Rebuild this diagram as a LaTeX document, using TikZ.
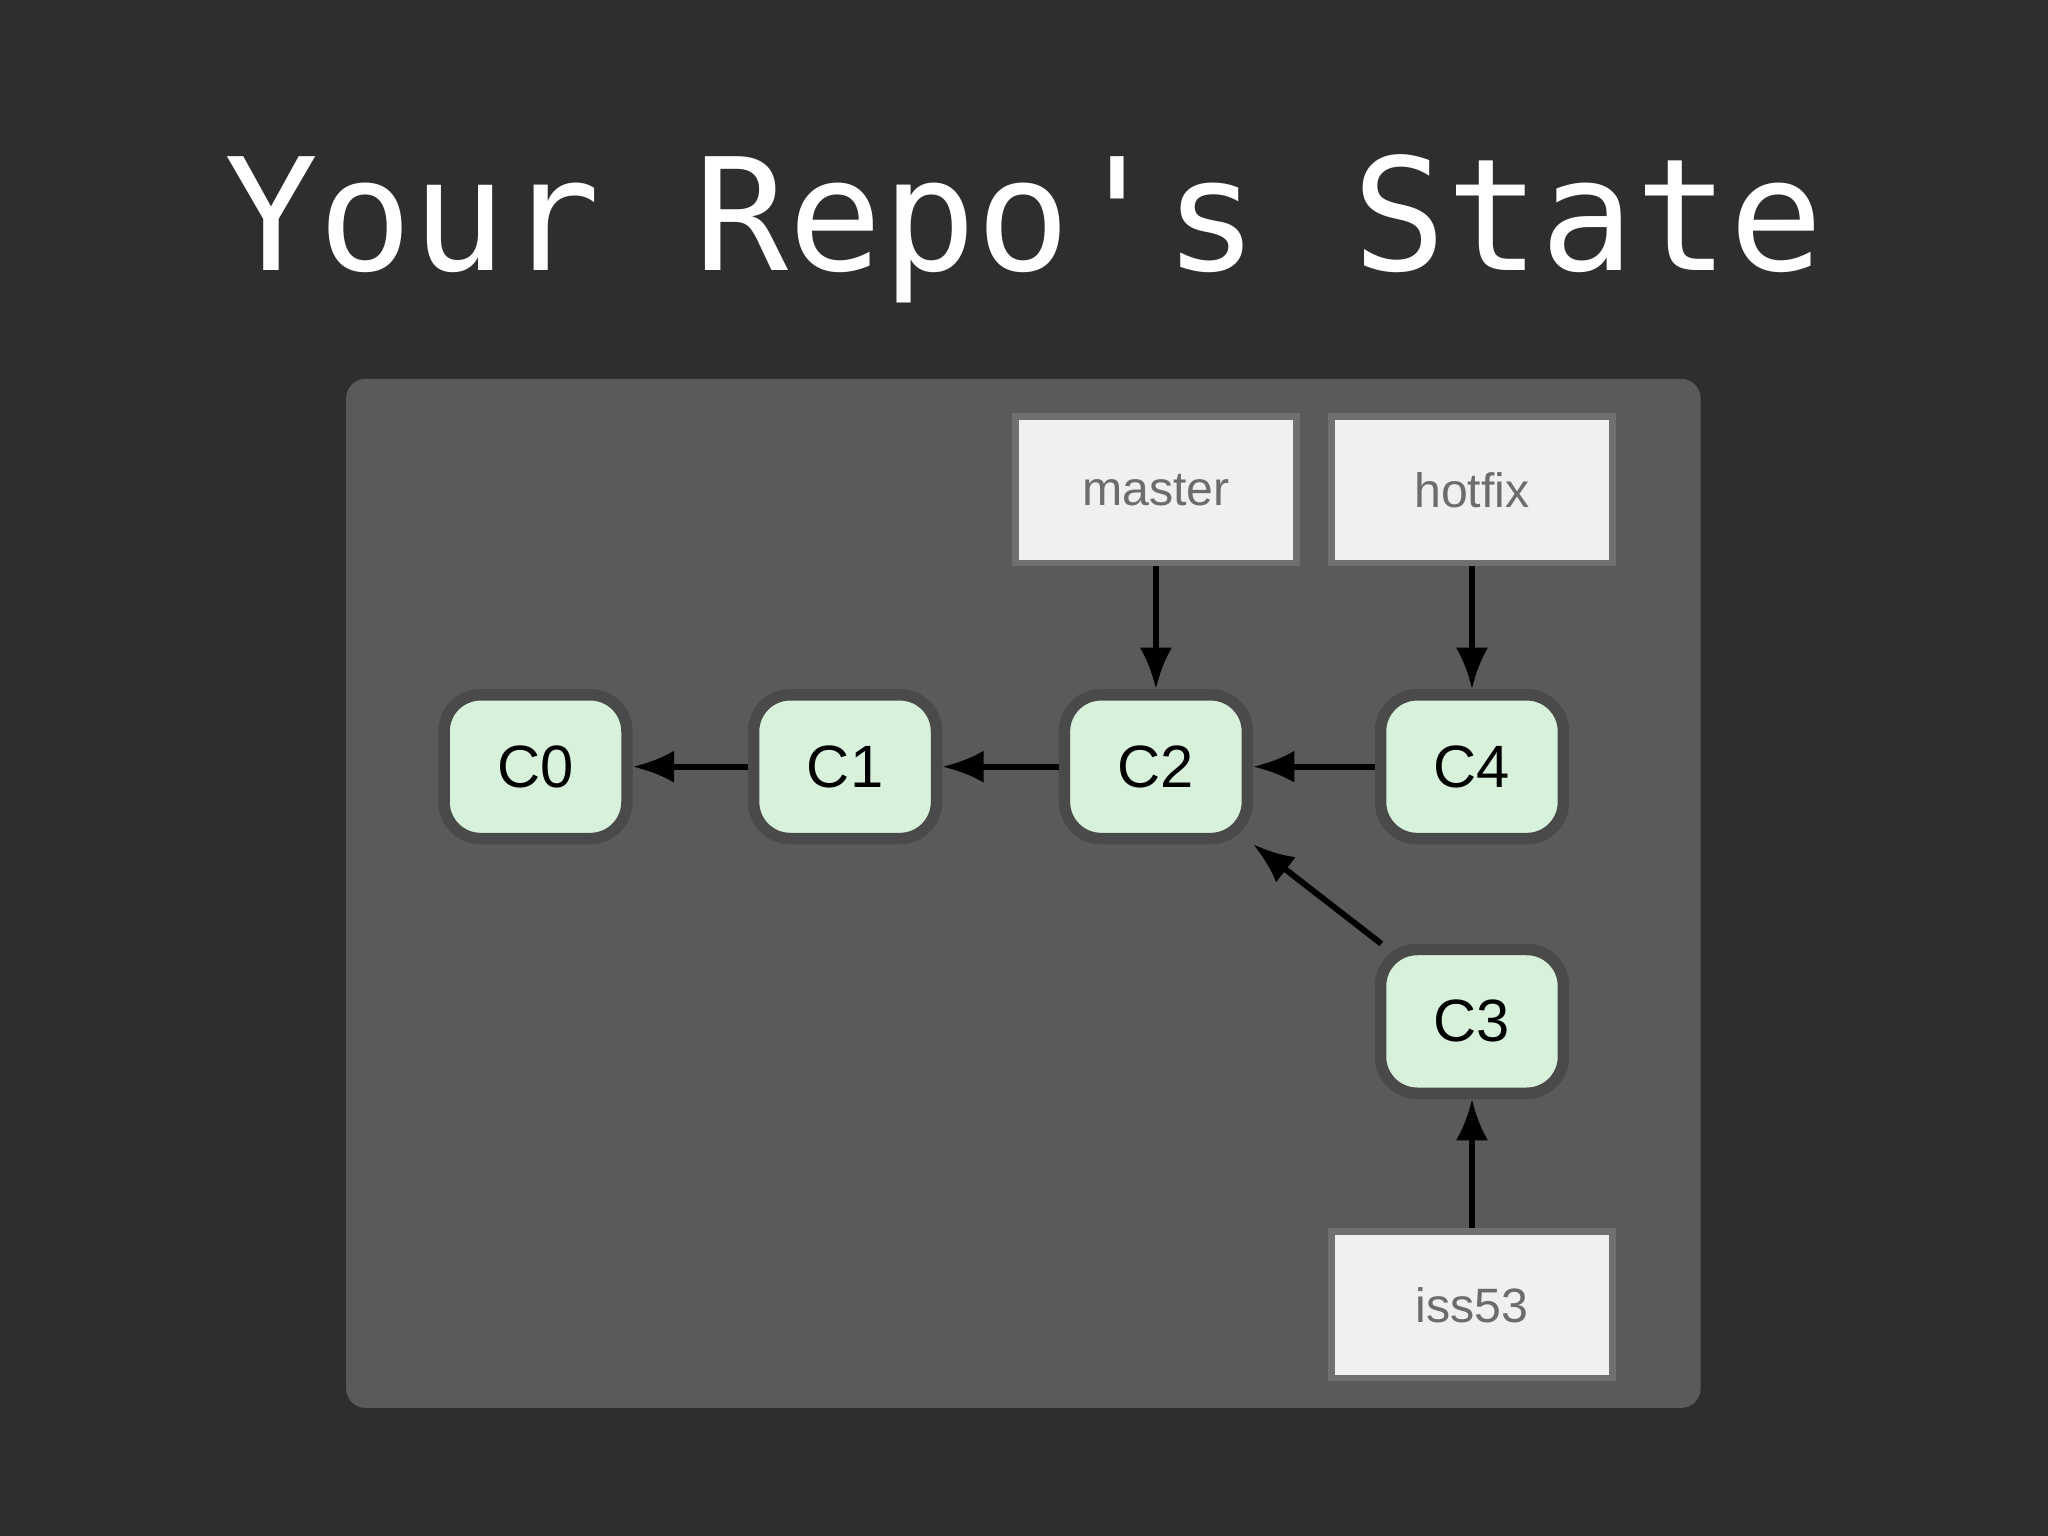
\documentclass[tikz,border=0pt]{standalone}
\usepackage{fontspec}
\setmainfont{Liberation Sans}
\newfontfamily\monof{DejaVu Sans Mono}
\usetikzlibrary{arrows.meta}
\definecolor{bgc}{HTML}{2E2E2E}
\definecolor{panelc}{HTML}{5A5A5A}
\definecolor{boxc}{HTML}{F1EFF1}
\definecolor{commitc}{HTML}{D8F1DA}
\definecolor{edgec}{HTML}{707070}
\definecolor{cedge}{HTML}{4A4A4A}
\begin{document}
\begin{tikzpicture}[x=0.01cm,y=-0.01cm,
  refbox/.style={draw=edgec,line width=1.5pt,fill=boxc,minimum width=2.15cm,minimum height=1.12cm,text=gray!85!black,font=\fontsize{10.5}{13}\selectfont},
  commit/.style={draw=cedge,line width=2.5pt,fill=commitc,rounded corners=0.28cm,minimum width=1.4cm,minimum height=1.1cm,font=\fontsize{13}{16}\selectfont},
  link/.style={-{Latex[length=9pt,width=7pt]},line width=1.3pt,black}]
\fill[bgc] (0,0) rectangle (1568,1176);
\fill[panelc,rounded corners=0.15cm] (265,290) rectangle (1302,1078);
\node[text=white,font=\monof\fontsize{34}{40}\selectfont] (title) at (784,175) {Your Repo's State};
\node[refbox] (master) at (885,375) {master};
\node[refbox] (hotfix) at (1127,375) {hotfix};
\node[refbox] (iss53) at (1127,999) {iss53};
\node[commit] (c0) at (410,587) {C0};
\node[commit] (c1) at (647,587) {C1};
\node[commit] (c2) at (885,587) {C2};
\node[commit] (c4) at (1127,587) {C4};
\node[commit] (c3) at (1127,782) {C3};
\draw[link] (c1) -- (c0);
\draw[link] (c2) -- (c1);
\draw[link] (c4) -- (c2);
\draw[link] (c3.north west) ++(5,0) -- (c2.south east);
\draw[link] (master) -- (c2);
\draw[link] (hotfix) -- (c4);
\draw[link] (iss53) -- (c3);
\end{tikzpicture}
\end{document}
